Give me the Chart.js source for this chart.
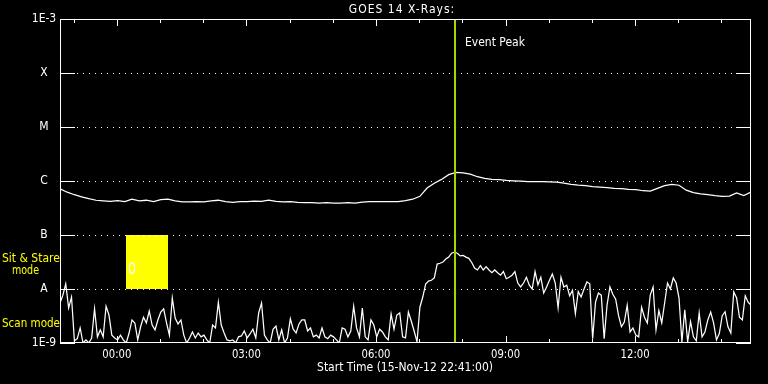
<!DOCTYPE html>
<html>
<head>
<meta charset="utf-8">
<title>GOES 14 X-Rays</title>
<script src="https://cdn.jsdelivr.net/npm/chart.js@4.4.1/dist/chart.umd.min.js"></script>
<style>
  html, body { margin: 0; padding: 0; background: #000; }
  #marco { width: 768px; height: 384px; }
</style>
</head>
<body>
<div id="marco"><canvas id="grafico" width="768" height="384"></canvas></div>
<script>
// Eje X: horas relativas a la medianoche del 16-Nov-12 (inicio 22:41 del 15-Nov)
const inicioHoras = -(1 + 19 / 60);
const duracionHoras = 16;
const pasoCortoMin = 4;    // canal 0.5-4 A
const pasoLargoMin = 10;   // canal 1-8 A

const nivelesFlujo = [1e-9, 1e-8, 1e-7, 1e-6, 1e-5, 1e-4, 1e-3];
const etiquetasNivel = ["1E-9", "A", "B", "C", "M", "X", "1E-3"];
const horasEtiqueta = [0, 3, 6, 9, 12];
const textosHora = ["00:00", "03:00", "06:00", "09:00", "12:00"];

const picoEvento = 7 + 50 / 60;              // 07:50
const ventanaSitStare = [13 / 60, 1 + 11 / 60]; // 00:13 - 01:11
const limitesSitStare = [1e-8, 1e-7];

// flujo canal largo (1-8 A), W/m2, cada 10 min
const flujoLargo = [
  7.2e-7, 6.2e-7, 5.57e-7, 5.1e-7, 4.7e-7, 4.4e-7, 4.3e-7, 4.2e-7, 4.35e-7, 4.15e-7,
  4.6e-7, 4.3e-7, 4.4e-7, 4.15e-7, 4.5e-7, 4.6e-7, 4.3e-7, 4.1e-7, 4.1e-7, 4.15e-7,
  4.1e-7, 4.3e-7, 4.4e-7, 4.15e-7, 4.0e-7, 4.15e-7, 4.15e-7, 4.25e-7, 4.2e-7, 4.4e-7,
  4.2e-7, 4.1e-7, 4.15e-7, 4.0e-7, 3.96e-7, 3.96e-7, 3.9e-7, 3.96e-7, 3.9e-7, 3.9e-7,
  3.96e-7, 3.9e-7, 4.05e-7, 4.15e-7, 4.15e-7, 4.15e-7, 4.15e-7, 4.15e-7, 4.35e-7, 4.6e-7,
  5.2e-7, 7.4e-7, 9.1e-7, 1.07e-6, 1.31e-6, 1.44e-6, 1.42e-6, 1.34e-6, 1.2e-6, 1.12e-6,
  1.07e-6, 1.06e-6, 1.03e-6, 1.01e-6, 9.9e-7, 9.7e-7, 9.7e-7, 9.7e-7, 9.6e-7, 9.5e-7,
  9.1e-7, 8.7e-7, 8.4e-7, 8.2e-7, 7.9e-7, 7.7e-7, 7.5e-7, 7.3e-7, 7.2e-7, 7.0e-7,
  6.9e-7, 6.6e-7, 6.5e-7, 7.3e-7, 8.2e-7, 8.65e-7, 8.35e-7, 6.75e-7, 6.1e-7, 5.8e-7,
  5.57e-7, 5.35e-7, 5.2e-7, 5.25e-7, 6.0e-7, 5.35e-7, 6.25e-7
];

// flujo canal corto (0.5-4 A), W/m2, cada 4 min
const flujoCorto = [
  5.5e-9, 7.7e-9, 1.24e-8, 4.45e-9, 7.1e-9, 1.1e-9, 1.2e-9, 1.9e-9, 1e-9, 1.14e-9,
  1e-9, 1.24e-9, 4.3e-9, 1.3e-9, 1.75e-9, 1.3e-9, 4.8e-9, 3.3e-9, 1.4e-9, 1.24e-9,
  1.14e-9, 1.4e-9, 1.14e-9, 1e-9, 1.53e-9, 2.67e-9, 2.35e-9, 1.14e-9, 2.0e-9, 3.0e-9,
  2.35e-9, 3.9e-9, 2.15e-9, 1.75e-9, 2.67e-9, 3.75e-9, 4.3e-9, 2.35e-9, 1.4e-9, 6.8e-9,
  2.9e-9, 2.25e-9, 2.67e-9, 1.4e-9, 1e-9, 1.24e-9, 1.6e-9, 1.24e-9, 1.53e-9, 1.3e-9,
  1.4e-9, 1.14e-9, 1e-9, 2.15e-9, 1.9e-9, 5.7e-9, 2.15e-9, 1.53e-9, 1.14e-9, 1.1e-9,
  1.14e-9, 1e-9, 1.3e-9, 1.35e-9, 1.67e-9, 1.24e-9, 1.47e-9, 1.8e-9, 1.24e-9, 3.6e-9,
  5.5e-9, 1.4e-9, 1.14e-9, 1e-9, 1.8e-9, 2.05e-9, 1.14e-9, 1.75e-9, 1e-9, 1.24e-9,
  2.8e-9, 1.8e-9, 1.53e-9, 2.25e-9, 2.67e-9, 2.67e-9, 1.67e-9, 1.9e-9, 1.3e-9, 1.4e-9,
  1.24e-9, 1.9e-9, 1.3e-9, 1.2e-9, 1.4e-9, 1.3e-9, 1.14e-9, 1e-9, 1.9e-9, 1.8e-9,
  1.3e-9, 1.67e-9, 4.8e-9, 1.9e-9, 1.3e-9, 4.45e-9, 1.3e-9, 1.14e-9, 2.67e-9, 2.15e-9,
  1.3e-9, 1.8e-9, 1.6e-9, 1.3e-9, 1.14e-9, 3.45e-9, 1.8e-9, 3.3e-9, 3.6e-9, 1.3e-9,
  1.24e-9, 3.75e-9, 2.55e-9, 1.67e-9, 1.05e-9, 4.6e-9, 7.1e-9, 1.24e-8, 1.4e-8, 1.45e-8,
  1.6e-8, 2.9e-8, 3.0e-8, 3.15e-8, 3.6e-8, 3.9e-8, 4.6e-8, 4.8e-8, 4.6e-8, 4.1e-8,
  4.2e-8, 3.9e-8, 3.7e-8, 3.1e-8, 2.45e-8, 2.25e-8, 2.7e-8, 2.25e-8, 2.6e-8, 2.25e-8,
  2.0e-8, 2.25e-8, 2.0e-8, 1.8e-8, 2.1e-8, 1.55e-8, 1.65e-8, 1.8e-8, 2.1e-8, 1.29e-8,
  1.09e-8, 1.29e-8, 1.65e-8, 1.18e-8, 1.0e-8, 2.1e-8, 1.2e-8, 1.65e-8, 8.4e-9, 1.09e-8,
  1.45e-8, 1.9e-8, 1.3e-8, 4.5e-9, 1.65e-8, 1.09e-8, 1.18e-8, 7.5e-9, 9.5e-9, 3.5e-9,
  9e-9, 7.1e-9, 1.0e-8, 1.35e-8, 1.25e-8, 1.2e-9, 5.7e-9, 8.4e-9, 7.7e-9, 1.2e-9,
  5e-9, 1.09e-8, 8e-9, 6.5e-9, 3.2e-9, 2.0e-9, 2.45e-9, 5.0e-9, 1.6e-9, 1.9e-9,
  1.4e-9, 1.3e-9, 4.6e-9, 3.0e-9, 2.35e-9, 7.7e-9, 1.09e-8, 1.75e-9, 4.0e-9, 2.35e-9,
  5.5e-9, 1.29e-8, 1.0e-8, 1.6e-8, 1.29e-8, 6.8e-9, 1.05e-9, 4.1e-9, 1.05e-9, 2.5e-9,
  1.3e-9, 1.1e-9, 3.6e-9, 1.3e-9, 1.6e-9, 2.67e-9, 3.75e-9, 2.35e-9, 1.14e-9, 1.5e-9,
  3.2e-9, 3.8e-9, 2.0e-9, 1.53e-9, 8.8e-9, 6.8e-9, 3.0e-9, 2.67e-9, 7.5e-9, 5.7e-9, 5.0e-9
];

const FUENTE = "12px 'DejaVu Sans Condensed', 'DejaVu Sans'";
const COLOR_PICO = "#a8d400";
const AMARILLO = "#ffff00";

function aPuntos(valores, pasoMin) {
  return valores.map((v, i) => ({ x: inicioHoras + (i * pasoMin) / 60, y: v }));
}

// texto con ancho máximo (las letras Hershey de IDL son más estrechas)
function texto(ctx, str, x, y, ancho) {
  if (ancho) ctx.fillText(str, x, y, ancho);
  else ctx.fillText(str, x, y);
}

// Dibujo estilo IDL: marco, ticks, rejilla punteada, etiquetas
const pluginIdl = {
  id: "estiloIdl",
  beforeDatasetsDraw(chart) {
    const { ctx, chartArea: a, scales: { x, y } } = chart;
    ctx.save();

    // ventana Sit & Stare
    const x0 = x.getPixelForValue(ventanaSitStare[0]);
    const x1 = x.getPixelForValue(ventanaSitStare[1]);
    const yTop = y.getPixelForValue(limitesSitStare[1]);
    const yBot = y.getPixelForValue(limitesSitStare[0]);
    ctx.fillStyle = AMARILLO;
    ctx.fillRect(Math.round(x0), Math.round(yTop), Math.round(x1 - x0), Math.round(yBot - yTop));
    ctx.fillStyle = "#ffffff";
    ctx.font = "15px 'DejaVu Sans'";
    ctx.textAlign = "left";
    ctx.textBaseline = "middle";
    texto(ctx, "0", Math.round(x0) + 2, Math.round(yBot) - 19, 8);

    // rejilla punteada
    ctx.strokeStyle = "#ffffff";
    ctx.lineWidth = 1;
    ctx.setLineDash([1, 5]);
    nivelesFlujo.slice(1, -1).forEach((v) => {
      const py = Math.round(y.getPixelForValue(v)) + 0.5;
      ctx.beginPath();
      ctx.moveTo(a.left + 17, py);
      ctx.lineTo(a.right - 15, py);
      ctx.stroke();
    });
    ctx.restore();
  },
  afterDatasetsDraw(chart) {
    const { ctx, chartArea: a, scales: { x, y } } = chart;
    ctx.save();

    // línea del pico del evento
    const px = Math.round(x.getPixelForValue(picoEvento));
    ctx.strokeStyle = COLOR_PICO;
    ctx.lineWidth = 2;
    ctx.beginPath();
    ctx.moveTo(px, a.top);
    ctx.lineTo(px, a.bottom);
    ctx.stroke();

    // marco
    ctx.strokeStyle = "#ffffff";
    ctx.lineWidth = 1;
    ctx.strokeRect(a.left + 0.5, a.top + 0.5, a.right - a.left - 1, a.bottom - a.top - 1);

    // ticks Y (izquierda y derecha)
    nivelesFlujo.forEach((v) => {
      const py = Math.round(y.getPixelForValue(v)) + 0.5;
      ctx.beginPath();
      ctx.moveTo(a.left, py); ctx.lineTo(a.left + 15, py);
      ctx.moveTo(a.right - 15, py); ctx.lineTo(a.right, py);
      ctx.stroke();
    });

    // ticks X cada hora (arriba y abajo)
    for (let h = Math.ceil(x.min); h <= x.max; h++) {
      const tx = Math.round(x.getPixelForValue(h)) + 0.5;
      const largo = h % 3 === 0 ? 7 : 4;
      ctx.beginPath();
      ctx.moveTo(tx, a.top); ctx.lineTo(tx, a.top + largo);
      ctx.moveTo(tx, a.bottom); ctx.lineTo(tx, a.bottom - largo);
      ctx.stroke();
    }

    // etiquetas
    ctx.fillStyle = "#ffffff";
    ctx.font = FUENTE;
    ctx.textBaseline = "middle";
    ctx.textAlign = "center";
    nivelesFlujo.forEach((v, i) => {
      texto(ctx, etiquetasNivel[i], 44, Math.round(y.getPixelForValue(v)), 26);
    });
    horasEtiqueta.forEach((h, i) => {
      texto(ctx, textosHora[i], x.getPixelForValue(h), a.bottom + 12, 29);
    });
    texto(ctx, "Start Time (15-Nov-12 22:41:00)", 405, 368, 176);

    ctx.letterSpacing = "1px";
    texto(ctx, "GOES 14 X-Rays:", 402, 10, 111);
    ctx.letterSpacing = "0px";

    ctx.textAlign = "left";
    texto(ctx, "Event Peak", px + 10, 43, 60);

    ctx.fillStyle = AMARILLO;
    texto(ctx, "Sit & Stare", 2, 259, 66);
    texto(ctx, "mode", 12, 271, 27);
    texto(ctx, "Scan mode", 2, 324, 58);
    ctx.restore();
  }
};

new Chart(document.getElementById("grafico"), {
  type: "line",
  data: {
    datasets: [
      { label: "1-8 A", data: aPuntos(flujoLargo, pasoLargoMin), borderColor: "#ffffff" },
      { label: "0.5-4 A", data: aPuntos(flujoCorto, pasoCortoMin), borderColor: "#ffffff" }
    ]
  },
  options: {
    responsive: false,
    animation: false,
    devicePixelRatio: 1,
    layout: { padding: { left: 60, right: 17, top: 19, bottom: 41 } },
    plugins: { legend: { display: false }, tooltip: { enabled: false } },
    elements: { point: { radius: 0 }, line: { borderWidth: 1.25, tension: 0 } },
    scales: {
      x: { type: "linear", min: inicioHoras, max: inicioHoras + duracionHoras, display: false },
      y: { type: "logarithmic", min: 1e-9, max: 1e-3, display: false }
    }
  },
  plugins: [pluginIdl]
});
</script>
</body>
</html>
